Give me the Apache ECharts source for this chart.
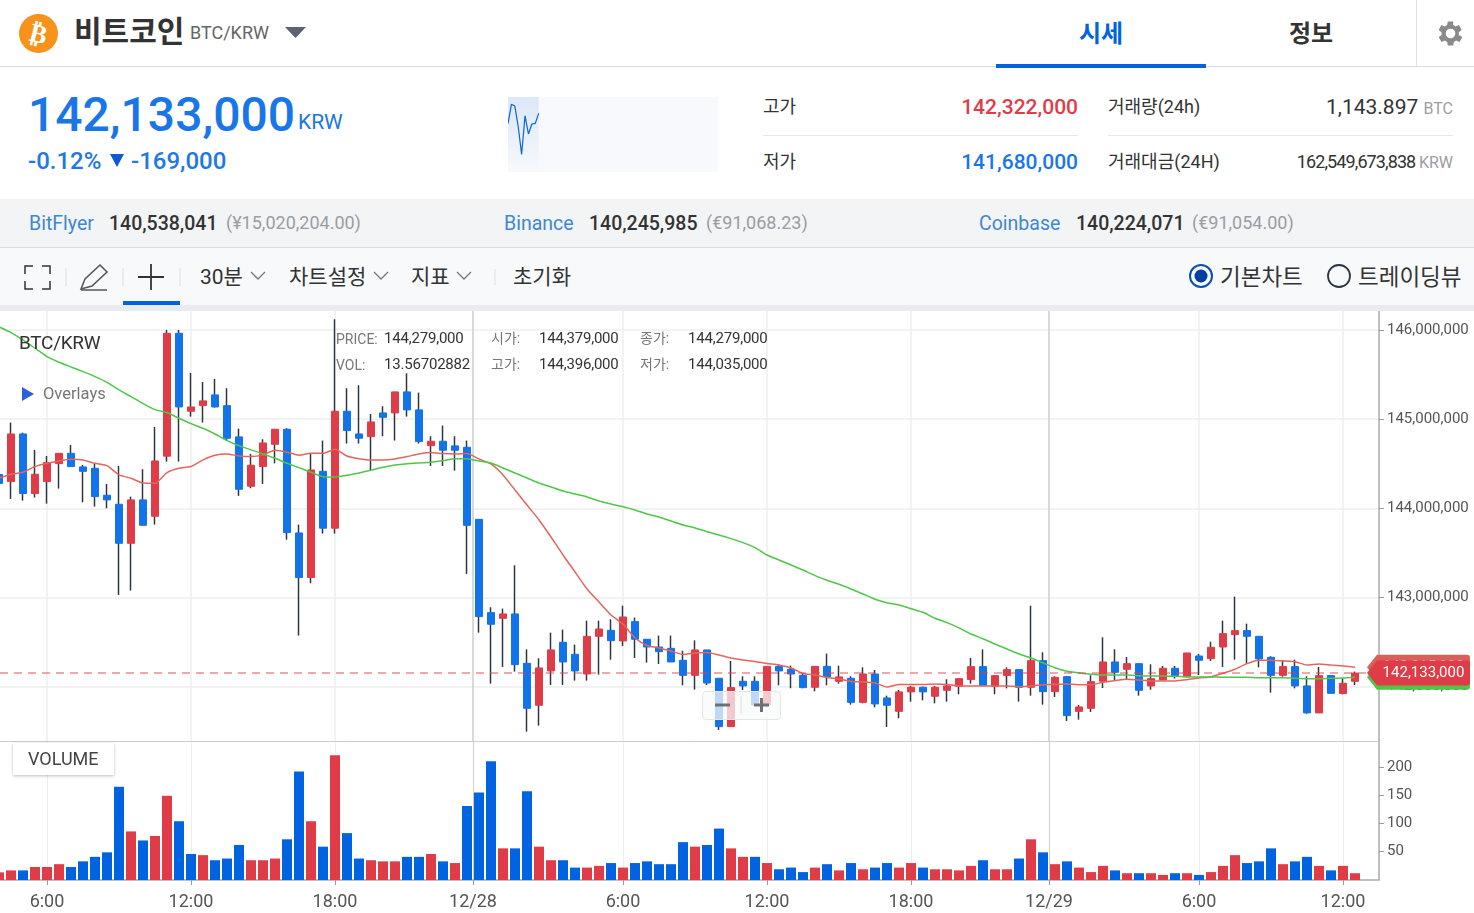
<!DOCTYPE html>
<html>
<head>
<meta charset="utf-8">
<title>BTC/KRW</title>
<script src="https://cdn.jsdelivr.net/npm/echarts@6/dist/echarts.min.js"></script>
<style>
html, body { margin: 0; padding: 0; background: #fff; }
body { width: 1474px; height: 913px; position: relative; overflow: hidden; font-family: Roboto, "Noto Sans CJK KR", sans-serif; color: #333; }
.t { position: absolute; white-space: nowrap; transform: translateY(-50%); line-height: 1.2; }
.box { position: absolute; }
#chart { position: absolute; left: 0; top: 311px; width: 1474px; height: 602px; }
#spark { position: absolute; left: 508px; top: 97px; width: 210px; height: 75px; }
.blue { color: #1976e8; }
.gray { color: #9a9da3; }
.tip { font-size: 14px; color: #777; }
.tipv { font-size: 15px; color: #333; letter-spacing: -.2px; }
</style>
</head>
<body>
<!-- header -->
<svg class="box" style="left:18px;top:13px" width="41" height="41">
  <circle cx="20.5" cy="20.5" r="19.5" fill="#f7931a"/>
  <text x="20.5" y="29.500" text-anchor="middle" font-family="DejaVu Sans" font-weight="bold" font-size="26" fill="#fff" transform="rotate(14 20.5 20.5)">₿</text>
</svg>
<span class="t" style="left:74px;top:32px;font-size:30px;font-weight:700">비트코인</span>
<span class="t" style="left:190px;top:33px;font-size:18px;color:#666">BTC/KRW</span>
<svg class="box" style="left:285px;top:27px" width="22" height="12"><path d="M0 0H21L10.5 11Z" fill="#5c6370"/></svg>
<span class="t" style="left:1079px;top:34px;font-size:24px;font-weight:700;color:#0263e0">시세</span>
<span class="t" style="left:1289px;top:34px;font-size:24px;font-weight:700">정보</span>
<div class="box" style="left:0;top:66px;width:1474px;height:1px;background:#ddd"></div>
<div class="box" style="left:996px;top:64px;width:210px;height:4px;background:#0263e0"></div>
<div class="box" style="left:1416px;top:0;width:1px;height:66px;background:#e2e2e2"></div>
<svg class="box" style="left:1434px;top:17px" width="33" height="33" viewBox="0 0 24 24"><path fill="#8a8a8a" d="M19.4 13a7.5 7.5 0 0 0 0-2l2.1-1.6-2-3.5-2.5 1a7.5 7.5 0 0 0-1.7-1L15.4 3.2h-4l-.4 2.7a7.5 7.5 0 0 0-1.7 1l-2.5-1-2 3.5L6.900 11a7.500 7.500 0 0 0 0 2l-2.100 1.600 2 3.500 2.500-1a7.500 7.500 0 0 0 1.700 1l.4 2.700h4l.4-2.700a7.500 7.500 0 0 0 1.700-1l2.500 1 2-3.500zM13.400 15.500a3.500 3.500 0 1 1 0-7 3.500 3.500 0 0 1 0 7z" transform="translate(-1.400 0)"/></svg>

<!-- price row -->
<span class="t blue" style="left:28px;top:115px;font-size:48px;font-weight:500">142,133,000</span>
<span class="t blue" style="left:298px;top:123px;font-size:21px">KRW</span>
<span class="t blue" style="left:28px;top:161px;font-size:24px;font-weight:500;color:#1f78e6">-0.12%</span>
<svg class="box" style="left:110px;top:154px" width="14" height="13"><path d="M0 0H14L7 13Z" fill="#0a5ad0"/></svg>
<span class="t blue" style="left:131px;top:161px;font-size:24px;font-weight:500;color:#1f78e6">-169,000</span>
<div id="spark"></div>

<span class="t" style="left:763px;top:107px;font-size:18px">고가</span>
<span class="t" style="right:396px;top:108px;font-size:21px;font-weight:500;color:#e03c48">142,322,000</span>
<div class="box" style="left:763px;top:135px;width:315px;height:1px;background:#e6e6e6"></div>
<span class="t" style="left:763px;top:162px;font-size:18px">저가</span>
<span class="t blue" style="right:396px;top:163px;font-size:21px;font-weight:500">141,680,000</span>
<span class="t" style="left:1108px;top:107px;font-size:18px">거래량(24h)</span>
<span class="t" style="right:21px;top:108px;font-size:21px"><span>1,143.897</span> <span class="gray" style="font-size:16px">BTC</span></span>
<div class="box" style="left:1108px;top:135px;width:345px;height:1px;background:#e6e6e6"></div>
<span class="t" style="left:1108px;top:162px;font-size:18px">거래대금(24H)</span>
<span class="t" style="right:21px;top:162px;font-size:18px;letter-spacing:-.9px"><span>162,549,673,838</span> <span class="gray" style="font-size:16px;letter-spacing:0">KRW</span></span>

<!-- exchange row -->
<div class="box" style="left:0;top:199px;width:1474px;height:48px;background:#f3f4f6;border-bottom:1px solid #ddd"></div>
<span class="t" style="left:29px;top:224px;font-size:19.5px;color:#3f87d0">BitFlyer</span>
<span class="t" style="left:109px;top:224px;font-size:19.5px;font-weight:500">140,538,041</span>
<span class="t gray" style="left:226px;top:223px;font-size:18px">(¥15,020,204.00)</span>
<span class="t" style="left:504px;top:224px;font-size:19.5px;color:#3f87d0">Binance</span>
<span class="t" style="left:589px;top:224px;font-size:19.5px;font-weight:500">140,245,985</span>
<span class="t gray" style="left:706px;top:223px;font-size:18px">(€91,068.23)</span>
<span class="t" style="left:979px;top:224px;font-size:19.5px;color:#3f87d0">Coinbase</span>
<span class="t" style="left:1076px;top:224px;font-size:19.5px;font-weight:500">140,224,071</span>
<span class="t gray" style="left:1192px;top:223px;font-size:18px">(€91,054.00)</span>

<!-- toolbar -->
<div class="box" style="left:0;top:248px;width:1474px;height:57px;background:#f8f9fb"></div>
<div class="box" style="left:0;top:305px;width:1474px;height:6px;background:#e9ebef"></div>
<svg class="box" style="left:20px;top:260px" width="170" height="36" fill="none" stroke="#333" stroke-width="1.5">
  <path d="M5 14V6H13M22 6H30V14M5 21V29H13M22 29H30V21"/>
  <path d="M61 29L65 19L80 5L87 12L72 26Z" stroke="#555"/><path d="M61 30H87" stroke="#555"/>
  <path d="M131 4V30M118 17H144" stroke-width="1.800"/>
  <path d="M46 8V26M103 8V26M160 8V26" stroke="#e4e6ea"/>
</svg>
<div class="box" style="left:123px;top:301px;width:57px;height:4px;background:#0263e0"></div>
<span class="t" style="left:200px;top:278px;font-size:21px">30분</span>
<span class="t" style="left:289px;top:278px;font-size:21px">차트설정</span>
<span class="t" style="left:411px;top:278px;font-size:21px">지표</span>
<span class="t" style="left:513px;top:278px;font-size:21px">초기화</span>
<svg class="box" style="left:250px;top:268px" width="250" height="18" fill="none" stroke="#777" stroke-width="1.300">
  <path d="M1 4L8 11L15 4M124 4L131 11L138 4M207 4L214 11L221 4"/>
  <path d="M245 1V17" stroke="#e4e6ea"/>
</svg>
<svg class="box" style="left:1188px;top:263px" width="164" height="26">
  <circle cx="13" cy="13" r="11" fill="none" stroke="#0a4fb0" stroke-width="2"/><circle cx="13" cy="13" r="6.500" fill="#033f9e"/>
  <circle cx="151" cy="13" r="11" fill="none" stroke="#2b3644" stroke-width="1.800"/>
</svg>
<span class="t" style="left:1220px;top:277px;font-size:22.5px">기본차트</span>
<span class="t" style="left:1358px;top:277px;font-size:22.5px">트레이딩뷰</span>

<div id="chart"></div>

<!-- chart overlays -->
<span class="t" style="left:19px;top:343px;font-size:19px;letter-spacing:-.3px;color:#333">BTC/KRW</span>
<svg class="box" style="left:22px;top:387px" width="12" height="14"><path d="M0 0L12 7L0 14Z" fill="#2a62d8"/></svg>
<span class="t" style="left:43px;top:394px;font-size:16.500px;color:#777">Overlays</span>
<span class="t tip" style="left:336px;top:339px">PRICE:</span>
<span class="t tipv" style="left:384px;top:338px">144,279,000</span>
<span class="t tip" style="left:336px;top:365px">VOL:</span>
<span class="t tipv" style="left:384px;top:364px">13.56702882</span>
<span class="t tip" style="left:491px;top:338px">시가:</span>
<span class="t tipv" style="left:539px;top:338px">144,379,000</span>
<span class="t tip" style="left:640px;top:338px">종가:</span>
<span class="t tipv" style="left:688px;top:338px">144,279,000</span>
<span class="t tip" style="left:491px;top:364px">고가:</span>
<span class="t tipv" style="left:539px;top:364px">144,396,000</span>
<span class="t tip" style="left:640px;top:364px">저가:</span>
<span class="t tipv" style="left:688px;top:364px">144,035,000</span>
<div class="box" style="left:702px;top:691px;width:77px;height:27px;background:rgba(248,249,250,.75);border:1px solid #e6e6e6;border-radius:4px"></div>
<svg class="box" style="left:712px;top:694px" width="60" height="22">
  <path d="M3 11H18M42 11H57M49.500 4V18" stroke="#6d7075" stroke-width="3" fill="none"/><path d="M29 2V20" stroke="#e0e0e0"/>
</svg>
<div class="box" style="left:13px;top:743px;width:101px;height:32px;background:#fff;box-shadow:0 1px 3px rgba(0,0,0,.25)"></div>
<span class="t" style="left:28px;top:759px;font-size:18px;color:#444">VOLUME</span>

<script>
// prices in thousand KRW, one entry per 30 min candle
const opens = [
  144379,144299,144834,144165,144299,144501,144617,144464,144449,144146,
  144045,143607,144094,143910,144584,145964,145089,145152,145272,145152,
  144801,144247,144468,144718,144887,143723,143222,144415,143776,145089,
  144834,144804,145070,145070,145306,145104,144703,144752,144700,144685,
  143876,142829,142765,142814,142260,141789,142174,142496,142361,142140,
  142563,142630,142511,142728,142530,142443,142428,142294,142125,142410,
  142092,141549,142058,142058,141793,142226,142193,142125,141991,142226,
  142058,142092,141822,142140,141871,141721,141939,141991,141890,141957,
  142002,142077,142223,142002,142122,142189,141991,142290,141942,142110,
  141721,141755,142058,142275,142193,142256,142006,142073,142204,142107,
  142342,142312,142443,142582,142627,142563,142327,142125,142223,142006,
  141703,142122,141920,142058
];
const closes = [
  144279,144834,144165,144382,144513,144617,144468,144415,144131,144094,
  143607,144094,143809,144531,145964,145137,145137,145205,145137,144786,
  144213,144483,144733,144887,143727,143222,144430,143776,145089,144872,
  144786,144969,145021,145306,145104,144748,144752,144651,144651,143809,
  142784,142698,142814,142245,141755,142208,142410,142275,142174,142563,
  142645,142514,142780,142530,142443,142391,142275,142125,142410,142039,
  141549,141987,142006,141793,142226,142174,142140,141987,142226,142107,
  142107,141822,142140,141804,141789,141939,141991,141939,141991,142006,
  142088,142223,142013,142122,142189,141991,142290,141942,142103,141673,
  141770,142054,142275,142159,142256,141957,142088,142204,142122,142376,
  142294,142440,142593,142627,142563,142309,142125,142223,142006,141703,
  142122,141923,142036,142150
];
const highs = [
  144396,144962,144849,144655,144587,144617,144711,144486,144498,144273,
  144475,144131,144438,144913,146002,146002,145519,145418,145452,145347,
  144894,144610,144775,144887,144898,143817,144617,144760,146121,145347,
  145381,145059,145145,145306,145515,145298,144808,144928,144808,144760,
  143876,142889,142874,143360,142417,142316,142604,142638,142470,142739,
  142739,142754,142907,142773,142530,142571,142571,142402,142518,142410,
  142092,142286,142114,142114,142226,142241,142234,142148,142226,142369,
  142234,142114,142215,142185,141897,141961,142006,141998,142006,142081,
  142088,142320,142417,142129,142215,142189,142907,142383,142114,142118,
  141792,142125,142552,142417,142331,142256,142249,142230,142230,142376,
  142365,142503,142739,143008,142705,142563,142339,142297,142301,142114,
  142219,142122,142092,142167
];
const lows = [
  144035,144105,144086,144120,144052,144221,144468,144067,144019,144000,
  143027,143076,143809,143817,144524,144524,145029,144962,145130,144767,
  144139,144225,144273,144505,143648,142571,143158,143716,143716,144726,
  144726,144427,144808,144760,145029,144726,144475,144475,144423,143263,
  142604,142032,142219,142167,141493,141561,142017,142017,142066,142066,
  142133,142301,142455,142320,142268,142253,142275,142013,141965,142017,
  141512,141549,141961,141793,141793,142013,141980,141980,141946,142013,
  142032,141796,141811,141766,141546,141643,141830,141845,141811,141830,
  141912,142032,142013,141912,141979,141830,141897,141796,141882,141613,
  141628,141714,141983,142062,142084,141897,141964,142073,142088,142107,
  142129,142286,142219,142301,142253,142215,141931,142110,141979,141695,
  141703,141923,141912,142017
];
const volumes = [
  13.567,17,17,23,23,28,23,33,41,49,
  165,86,70,78,149,104,46,44,35,38,
  62,35,35,38,72,192,104,59,221,83,
  38,35,33,33,41,41,46,33,30,131,
  155,210,56,56,157,59,35,35,22,22,
  25,30,22,30,33,28,28,67,59,62,
  91,56,41,41,30,19,22,14,22,28,
  17,30,19,22,30,22,30,22,19,19,
  17,25,35,19,19,38,72,49,28,33,
  22,14,25,17,12,12,12,9,12,12,
  9,14,25,44,30,33,56,28,33,41,
  25,17,25,12
];
// volume bars whose colour differs from their candle
const volumeFlipped = [0, 16, 32, 38, 62];
const maShort = [
  144337,144382,144404,144468,144505,144531,144550,144543,144505,144479,
  144374,144337,144284,144281,144400,144449,144468,144543,144595,144610,
  144587,144580,144599,144651,144629,144595,144617,144617,144662,144587,
  144557,144543,144543,144554,144580,144610,144625,144614,144610,144614,
  144553,144497,144374,144205,144037,143869,143678,143476,143285,143094,
  142948,142802,142701,142544,142460,142432,142398,142359,142376,142382,
  142354,142320,142297,142281,142258,142241,142208,142146,142129,142101,
  142084,142056,142051,142039,141994,142022,142022,142022,142028,142022,
  142006,142006,142006,142006,142006,141998,142006,142020,142025,142028,
  142020,142020,142047,142065,142081,142073,142062,142062,142062,142076,
  142095,142110,142148,142193,142256,142294,142294,142286,142278,142241,
  142253,142241,142230,142215
];
const maLong = [
  146035,145972,145889,145796,145702,145639,145586,145534,145478,145414,
  145328,145253,145175,145107,145074,145010,144950,144898,144834,144760,
  144703,144655,144610,144561,144505,144456,144404,144355,144352,144370,
  144397,144427,144460,144486,144501,144509,144516,144535,144557,144557,
  144531,144508,144452,144396,144340,144284,144239,144194,144160,144127,
  144082,144048,144018,143981,143936,143902,143857,143812,143779,143737,
  143700,143659,143614,143558,143476,143420,143364,143307,143244,143192,
  143147,143094,143038,142979,142940,142915,142873,142833,142765,142716,
  142657,142589,142536,142477,142421,142365,142320,142264,142211,142171,
  142152,142137,142129,142129,142129,142121,142118,142118,142114,142110,
  142107,142107,142103,142103,142103,142099,142099,142099,142092,142088,
  142088,142092,142095,142103
];
const currentPrice = 142133;
const priceTicks = [142000, 143000, 144000, 145000, 146000];
const volumeTicks = [50, 100, 150, 200];
// tick positions counted in candles
const timeTicks = [4, 16, 28, 39.5, 52, 64, 76, 87.5, 100, 112];
const timeLabels = ['6:00', '12:00', '18:00', '12/28', '6:00', '12:00', '18:00', '12/29', '6:00', '12:00'];
const sparkPrices = [142074, 142322, 142300, 142034, 141680, 142176, 141941, 142069, 142078, 142206];

const RED = '#e03c48';
const BLUE = '#1273eb';
const VOL_BLUE = '#0263e0';

function krw(v) {
  return (Math.round(v) * 1000).toLocaleString('en-US');
}
function indexed(list) {
  return list.map(function (v, i) { return [i, v]; });
}

const lastIndex = closes.length - 1;
const tagX = 118.29;
const tagPath = 'path://M0 12.500 L10 0 H100 Q103 0 103 3 V22 Q103 25 100 25 H10 Z';

const xAxisBase = {
  type: 'value',
  min: 0.0833,
  max: 115
};

// price tag at the right of the axis, later ones cover earlier ones
function priceTag(name, value, text, color, z) {
  return {
    name: name,
    type: 'scatter',
    clip: false,
    silent: true,
    z: z,
    symbol: tagPath,
    symbolSize: [103, 25],
    itemStyle: { color: color, opacity: 1 },
    label: {
      show: true,
      position: 'inside',
      offset: [5, 0],
      color: '#fff',
      fontSize: 15,
      formatter: function () { return text; }
    },
    data: [[tagX, value]]
  };
}

var chart = echarts.init(document.getElementById('chart'));
chart.setOption({
  animation: false,
  textStyle: { fontFamily: 'Roboto' },
  grid: [
    { left: 0, right: 95, top: 0, height: 430 },
    { left: 0, right: 95, top: 430, height: 139 }
  ],
  xAxis: [
    Object.assign({}, xAxisBase, {
      gridIndex: 0,
      axisLine: { show: true, onZero: false, lineStyle: { color: '#ccc', width: 1 } },
      axisTick: { show: false, customValues: timeTicks },
      axisLabel: { show: false, customValues: timeTicks },
      splitLine: { show: true, lineStyle: { color: ['#eee', '#eee', '#eee', '#ccc'], width: 1.5 } }
    }),
    Object.assign({}, xAxisBase, {
      gridIndex: 1,
      axisLine: { show: true, onZero: false, lineStyle: { color: '#aaa', width: 1.5 } },
      axisTick: { show: true, length: 5, customValues: timeTicks, lineStyle: { color: '#999' } },
      axisLabel: {
        customValues: timeTicks,
        margin: 13,
        fontSize: 18,
        color: '#555',
        formatter: function (v) { return timeLabels[timeTicks.indexOf(v)]; }
      },
      splitLine: { show: true, lineStyle: { color: ['#eee', '#eee', '#eee', '#ccc'], width: 1 } }
    })
  ],
  yAxis: [
    {
      type: 'value',
      gridIndex: 0,
      position: 'right',
      min: 141388,
      max: 146214,
      axisLine: { show: true, lineStyle: { color: '#aaa', width: 1.5 } },
      axisTick: { show: true, length: 5, customValues: priceTicks, lineStyle: { color: '#999' } },
      axisLabel: {
        customValues: priceTicks,
        margin: 8,
        fontSize: 15,
        color: '#555',
        formatter: krw
      },
      splitLine: { show: true, lineStyle: { color: '#eee', width: 1.5 } }
    },
    {
      type: 'value',
      gridIndex: 1,
      position: 'right',
      min: 0,
      max: 246,
      axisLine: { show: true, lineStyle: { color: '#aaa', width: 1.5 } },
      axisTick: { show: true, length: 5, customValues: volumeTicks, lineStyle: { color: '#999' } },
      axisLabel: { customValues: volumeTicks, margin: 8, fontSize: 15, color: '#555' },
      splitLine: { show: false }
    }
  ],
  series: [
    {
      // wicks only, the bodies are drawn on top
      name: 'wick',
      type: 'candlestick',
      barWidth: 1,
      data: opens.map(function (o, i) { return [i, o, closes[i], lows[i], highs[i]]; }),
      itemStyle: { color: '#2b3644', color0: '#2b3644', borderColor: '#2b3644', borderColor0: '#2b3644', borderWidth: 1.5 }
    },
    {
      name: 'body',
      type: 'candlestick',
      barWidth: 7,
      data: opens.map(function (o, i) {
        return [i, o, closes[i], Math.min(o, closes[i]), Math.max(o, closes[i])];
      }),
      itemStyle: { color: RED, color0: BLUE, borderColor: RED, borderColor0: BLUE, borderWidth: 1 },
      markLine: {
        silent: true,
        symbol: 'none',
        label: { show: false },
        lineStyle: { color: 'rgba(224,60,72,0.6)', type: [8, 6], width: 1.5 },
        data: [{ yAxis: closes[lastIndex] }]
      }
    },
    {
      name: 'MA short',
      type: 'line',
      data: indexed(maShort),
      symbol: 'none',
      smooth: 0.2,
      z: 4,
      lineStyle: { color: '#e4655c', width: 1.5 }
    },
    {
      name: 'MA long',
      type: 'line',
      data: indexed(maLong),
      symbol: 'none',
      smooth: 0.2,
      z: 4,
      lineStyle: { color: '#4fc64a', width: 1.5 }
    },
    priceTag('MA short tag', maShort[lastIndex], krw(maShort[lastIndex]), '#d9605b', 10),
    priceTag('MA long tag', maLong[lastIndex], krw(maLong[lastIndex]), '#4fc64a', 11),
    priceTag('price tag', closes[lastIndex], krw(currentPrice), RED, 12),
    {
      name: 'volume',
      type: 'bar',
      xAxisIndex: 1,
      yAxisIndex: 1,
      barWidth: 10,
      data: indexed(volumes),
      itemStyle: {
        color: function (p) {
          var up = closes[p.dataIndex] >= opens[p.dataIndex];
          if (volumeFlipped.indexOf(p.dataIndex) >= 0) up = !up;
          return up ? RED : VOL_BLUE;
        }
      }
    }
  ]
});

var spark = echarts.init(document.getElementById('spark'));
spark.setOption({
  animation: false,
  backgroundColor: '#f7f9fc',
  grid: { left: 0, right: 0, top: 0, bottom: 0 },
  xAxis: { type: 'value', min: 0, max: 61.6, show: false },
  yAxis: { type: 'value', min: 141453, max: 142416, show: false },
  series: [{
    type: 'line',
    data: indexed(sparkPrices),
    symbol: 'none',
    lineStyle: { color: '#0a63d8', width: 1.2 },
    markArea: {
      silent: true,
      itemStyle: {
        color: new echarts.graphic.LinearGradient(0, 0, 0, 1, [
          { offset: 0, color: '#dce8f7' },
          { offset: 0.4, color: '#e6eefa' },
          { offset: 1, color: '#f7f9fc' }
        ])
      },
      data: [[{ xAxis: 0, yAxis: 142416 }, { xAxis: sparkPrices.length - 1, yAxis: 141453 }]]
    }
  }]
});
</script>
</body>
</html>
